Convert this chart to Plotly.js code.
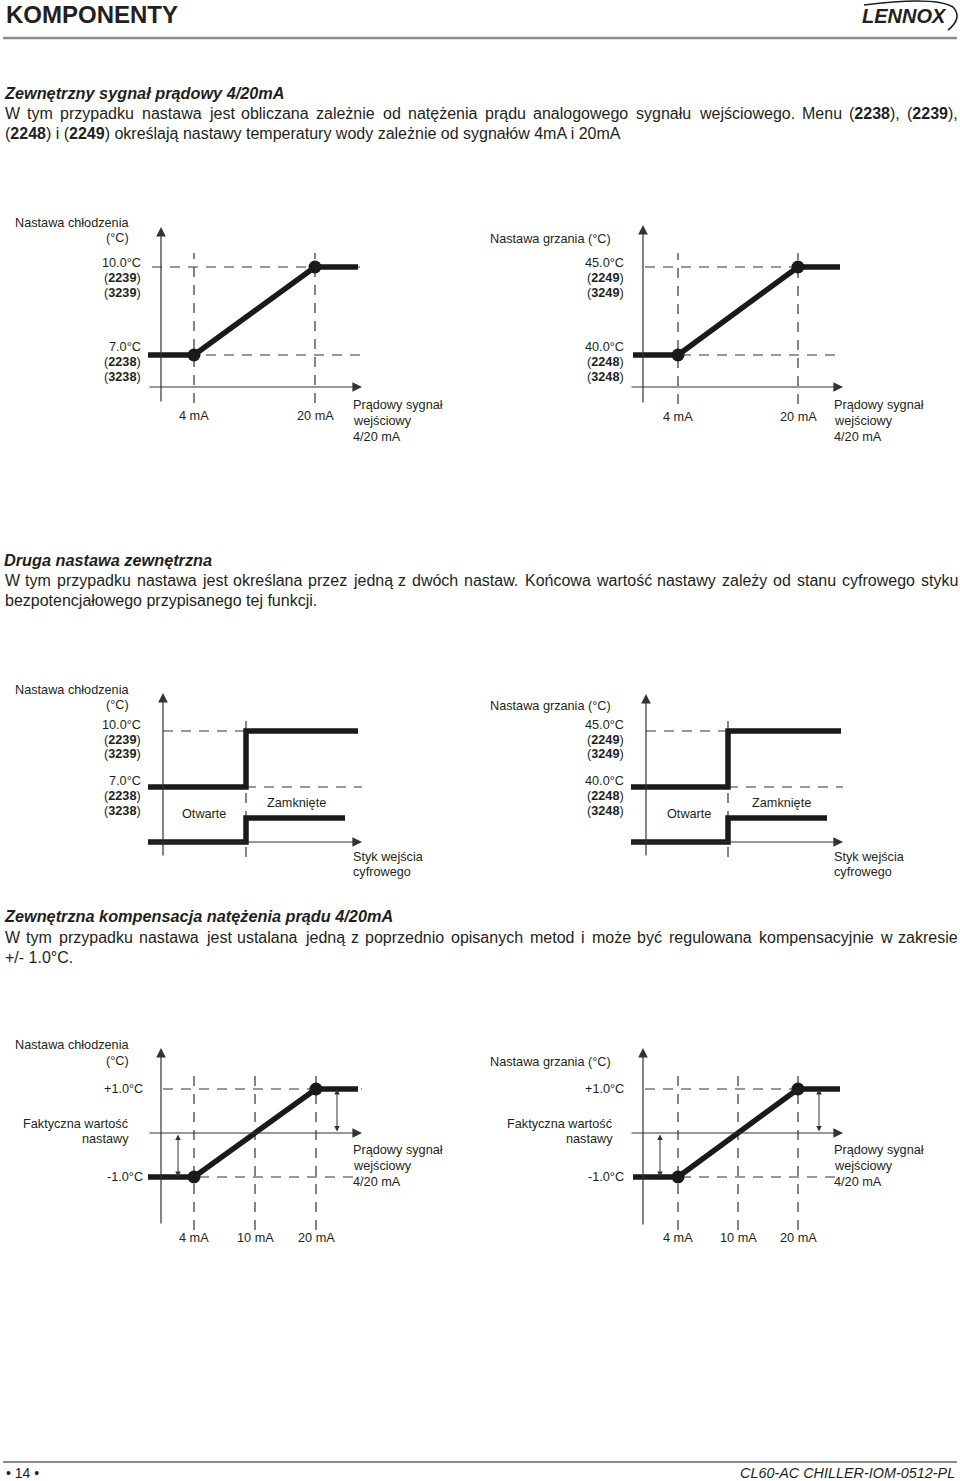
<!DOCTYPE html>
<html><head><meta charset="utf-8">
<script src="https://cdn.plot.ly/plotly-3.0.1.min.js"></script>
<style>html,body{margin:0;padding:0;background:#fff}#chart{width:960px;height:1481px}</style>
</head><body><div id="chart"></div>
<script>
// ---------------- data ----------------
const currentMA = [4, 20];
const currentLabels = ['4 mA', '20 mA'];
const coolSetpoints = [7.0, 10.0];
const heatSetpoints = [40.0, 45.0];
const coolLabels = ['7.0°C', '10.0°C'];
const heatLabels = ['40.0°C', '45.0°C'];
const coolMenus = [['2238', '3238'], ['2239', '3239']];
const heatMenus = [['2248', '3248'], ['2249', '3249']];
const contactStates = ['Otwarte', 'Zamknięte'];
const contactLevels = [0, 1];
const compCurrentLabels = ['4 mA', '10 mA', '20 mA'];
const compIndex = [0, 1, 2];
const compOffsets = [-1.0, 1.0];
const compLabels = ['-1.0°C', '+1.0°C'];
const actualSetpoint = 0;
const currentCaption = ['Prądowy sygnał', 'wejściowy', '4/20 mA'];
const contactCaption = ['Styk wejścia', 'cyfrowego'];
const coolTitle = ['Nastawa chłodzenia', '(°C)'];
const heatTitle = ['Nastawa grzania (°C)'];
const actualLabel = ['Faktyczna wartość', 'nastawy'];

// ---------------- setup ----------------
const W = 960, H = 1481;
const INK = '#231f20';
const FONT = 'Liberation Sans, Arial, sans-serif';
const DASH = '10px,8px';
const traces = [];
const layout = {
  width: W, height: H, margin: {l: 0, r: 0, t: 0, b: 0},
  paper_bgcolor: '#ffffff', plot_bgcolor: 'rgba(0,0,0,0)', showlegend: false,
  font: {family: FONT, color: INK, size: 12.7},
  annotations: [], shapes: []
};
const ann = layout.annotations, shp = layout.shapes;

function mk(p0, v0, p1, v1, pmin, pmax, isY) {
  const k = (v1 - v0) / (p1 - p0);
  const f = p => v0 + (p - p0) * k;
  return isY ? {domain: [1 - pmax / H, 1 - pmin / H], range: [f(pmax), f(pmin)], f}
             : {domain: [pmin / W, pmax / W], range: [f(pmin), f(pmax)], f};
}
function setAxis(id, m, anchor, extra) {
  const key = (id[0] === 'x' ? 'xaxis' : 'yaxis') + id.slice(1);
  layout[key] = Object.assign({domain: m.domain, range: m.range, autorange: false, visible: false,
    fixedrange: true, showgrid: false, zeroline: false, anchor: anchor}, extra || {});
}
function L(xid, yid, x, y, w, dash, color) {
  traces.push({type: 'scatter', mode: 'lines', x: x, y: y, xaxis: xid, yaxis: yid,
    line: {color: color || INK, width: w, dash: dash || 'solid'}, hoverinfo: 'skip'});
}
function A(xid, yid, x, y, ax, ay, o) {
  ann.push(Object.assign({xref: xid, yref: yid, axref: xid, ayref: yid, x: x, y: y, ax: ax, ay: ay,
    text: '', showarrow: true, arrowhead: 2, arrowsize: 1.6, arrowwidth: 1.2, arrowcolor: '#333',
    standoff: 0}, o || {}));
}
function T(text, px, py, xanchor, size, extra) {
  ann.push(Object.assign({xref: 'paper', yref: 'paper', x: px / W, y: 1 - py / H,
    xanchor: xanchor || 'left', yanchor: 'middle', text: text, showarrow: false,
    font: {size: size || 12.7, color: INK, family: FONT}}, extra || {}));
}
function TX(xid, text, x, py) {
  ann.push({xref: xid, yref: 'paper', x: x, y: 1 - py / H, xanchor: 'center', yanchor: 'middle',
    text: text, showarrow: false, font: {size: 12.7, color: INK, family: FONT}});
}
function menuTxt(n) { return '(<b>' + n + '</b>)'; }

// justified line: measure words with canvas and spread them between x0 and x1
const ctx = document.createElement('canvas').getContext('2d');
function wordWidth(word, size) {
  let w = 0;
  const parts = word.split(/(<b>.*?<\/b>)/).filter(s => s.length);
  parts.forEach(p => {
    const bold = p.startsWith('<b>');
    const s = p.replace(/<\/?b>/g, '');
    ctx.font = (bold ? 'bold ' : '') + size + 'px "Liberation Sans"';
    w += ctx.measureText(s).width;
  });
  return w;
}
function justify(line, x0, x1, py, size) {
  const words = line.split(' ');
  const ws = words.map(w => wordWidth(w, size));
  const total = ws.reduce((a, b) => a + b, 0);
  const gap = (x1 - x0 - total) / (words.length - 1);
  let x = x0;
  words.forEach((w, i) => {
    T(w, x, py, 'left', size, {borderpad: 0});
    x += ws[i] + gap;
  });
}

// ---------------- ramp diagrams (4/20 mA) ----------------
function ramp(g) {
  const xm = mk(g.xAnch[0], currentMA[0], g.xAnch[1], currentMA[1], g.frame[0], g.frame[1], false);
  const ym = mk(g.yAnch[0], g.sp[0], g.yAnch[1], g.sp[1], g.frame[2], g.frame[3], true);
  setAxis(g.xid, xm, g.yid); setAxis(g.yid, ym, g.xid);
  const X = xm.f, Y = ym.f;
  currentMA.forEach(c => L(g.xid, g.yid, [c, c], [Y(g.vBot), Y(g.vTop)], 1.2, DASH, '#333'));
  g.sp.forEach(s => L(g.xid, g.yid, [X(g.hL), X(g.hR)], [s, s], 1.2, DASH, '#333'));
  A(g.xid, g.yid, X(g.yAxisX), Y(g.yTop), X(g.yAxisX), Y(g.yBot));
  A(g.xid, g.yid, X(g.xTip), Y(g.xAxisY), X(g.xL), Y(g.xAxisY));
  L(g.xid, g.yid, [X(g.lineL), currentMA[0], currentMA[1], X(g.lineR)],
    [g.sp[0], g.sp[0], g.sp[1], g.sp[1]], 5.5, 'solid', '#1a1a1a');
  traces.push({type: 'scatter', mode: 'markers', x: currentMA, y: g.sp, xaxis: g.xid, yaxis: g.yid,
    marker: {size: 13, color: '#1a1a1a'}, hoverinfo: 'skip'});
  g.title.forEach((t, i) => T(t, g.titleR, g.titleY[i], 'right'));
  g.sp.forEach((s, i) => {
    const ys = g.labY[i];
    T(g.spLab[i], g.labR, ys[0], 'right');
    T(menuTxt(g.menus[i][0]), g.labR, ys[1], 'right');
    T(menuTxt(g.menus[i][1]), g.labR, ys[2], 'right');
  });
  currentMA.forEach((c, i) => TX(g.xid, currentLabels[i], c, g.tickY));
  currentCaption.forEach((t, i) => T(t, g.capX, g.capY[i], 'left'));
}

// ---------------- step diagrams (digital input) ----------------
function step(g) {
  const xm = mk(g.lineL, 0, g.lineR, 1, g.frame[0], g.frame[1], false);
  const ym = mk(g.yAnch[0], g.sp[0], g.yAnch[1], g.sp[1], g.frame[2], g.frame[3], true);
  const cm = mk(g.cAnch[0], contactLevels[0], g.cAnch[1], contactLevels[1], g.frame[2], g.frame[3], true);
  setAxis(g.xid, xm, g.yid); setAxis(g.yid, ym, g.xid); setAxis(g.cid, cm, g.xid, {overlaying: g.yid});
  const X = xm.f, Y = ym.f;
  const sx = X(g.stepX);
  L(g.xid, g.yid, [sx, sx], [Y(g.vBot), Y(g.vTop)], 1.2, DASH, '#333');
  L(g.xid, g.yid, [X(g.hTopL), sx], [g.sp[1], g.sp[1]], 1.2, DASH, '#333');
  L(g.xid, g.yid, [sx, X(g.hBotR)], [g.sp[0], g.sp[0]], 1.2, DASH, '#333');
  A(g.xid, g.yid, X(g.yAxisX), Y(g.yTop), X(g.yAxisX), Y(g.yBot));
  A(g.xid, g.yid, X(g.xTip), Y(g.xAxisY), X(g.xL), Y(g.xAxisY));
  traces.push({type: 'scatter', mode: 'lines', x: [X(g.lineL), sx, X(g.lineR)],
    y: [g.sp[0], g.sp[1], g.sp[1]], xaxis: g.xid, yaxis: g.yid,
    line: {color: '#1a1a1a', width: 5.5, shape: 'hv'}, hoverinfo: 'skip'});
  traces.push({type: 'scatter', mode: 'lines', x: [X(g.lineL), sx, X(g.lowR)],
    y: [contactLevels[0], contactLevels[1], contactLevels[1]], xaxis: g.xid, yaxis: g.cid,
    line: {color: '#1a1a1a', width: 5.5, shape: 'hv'}, hoverinfo: 'skip'});
  g.title.forEach((t, i) => T(t, g.titleR, g.titleY[i], 'right'));
  g.sp.forEach((s, i) => {
    const ys = g.labY[i];
    T(g.spLab[i], g.labR, ys[0], 'right');
    T(menuTxt(g.menus[i][0]), g.labR, ys[1], 'right');
    T(menuTxt(g.menus[i][1]), g.labR, ys[2], 'right');
  });
  contactStates.forEach((t, i) => T(t, g.stateLab[i][0], g.stateLab[i][1], 'center'));
  contactCaption.forEach((t, i) => T(t, g.capX, g.capY[i], 'left'));
}

// ---------------- compensation diagrams ----------------
function comp(g) {
  const xm = mk(g.xAnch[0], compIndex[0], g.xAnch[1], compIndex[2], g.frame[0], g.frame[1], false);
  const ym = mk(g.yAnch[0], compOffsets[0], g.yAnch[1], compOffsets[1], g.frame[2], g.frame[3], true);
  setAxis(g.xid, xm, g.yid); setAxis(g.yid, ym, g.xid);
  const X = xm.f, Y = ym.f;
  compIndex.forEach(c => L(g.xid, g.yid, [c, c], [Y(g.vBot), Y(g.vTop)], 1.2, DASH, '#333'));
  compOffsets.forEach(s => L(g.xid, g.yid, [X(g.hL), X(g.hR)], [s, s], 1.2, DASH, '#333'));
  A(g.xid, g.yid, X(g.yAxisX), Y(g.yTop), X(g.yAxisX), Y(g.yBot));
  A(g.xid, g.yid, X(g.xTip), actualSetpoint, X(g.xL), actualSetpoint);
  L(g.xid, g.yid, [X(g.lineL), compIndex[0], compIndex[2], X(g.lineR)],
    [compOffsets[0], compOffsets[0], compOffsets[1], compOffsets[1]], 5.5, 'solid', '#1a1a1a');
  traces.push({type: 'scatter', mode: 'markers', x: [compIndex[0], compIndex[2]], y: compOffsets,
    xaxis: g.xid, yaxis: g.yid, marker: {size: 13, color: '#1a1a1a'}, hoverinfo: 'skip'});
  compOffsets.forEach((s, i) => A(g.xid, g.yid, X(g.arrX[i]), s, X(g.arrX[i]), actualSetpoint,
    {arrowside: 'end+start', arrowhead: 2, startarrowhead: 2, arrowsize: 1.1, startarrowsize: 1.1, arrowwidth: 1}));
  g.title.forEach((t, i) => T(t, g.titleR, g.titleY[i], 'right'));
  compOffsets.forEach((s, i) => T(compLabels[i], g.labR, g.labY[i], 'right'));
  actualLabel.forEach((t, i) => T(t, g.faktR, g.faktY[i], 'right'));
  compIndex.forEach((c, i) => TX(g.xid, compCurrentLabels[i], c, g.tickY));
  currentCaption.forEach((t, i) => T(t, g.capX, g.capY[i], 'left'));
}

ramp({xid: 'x', yid: 'y', frame: [140, 372, 215, 412], xAnch: [194, 315], yAnch: [355, 267],
  yAxisX: 161, yTop: 227, yBot: 403, xAxisY: 387, xL: 148, xTip: 362, lineL: 148, lineR: 358,
  vTop: 253, vBot: 403, hL: 152, hR: 362, sp: coolSetpoints, spLab: coolLabels, menus: coolMenus,
  title: coolTitle, titleR: 131, titleY: [223, 238], labR: 143,
  labY: [[347, 362, 377], [263, 278, 293]], tickY: 416, capX: 351, capY: [405, 421, 437]});
ramp({xid: 'x2', yid: 'y2', frame: [622, 852, 215, 412], xAnch: [678, 798], yAnch: [355, 267],
  yAxisX: 643, yTop: 225, yBot: 404, xAxisY: 387, xL: 630, xTip: 843, lineL: 633, lineR: 840,
  vTop: 253, vBot: 404, hL: 645, hR: 843, sp: heatSetpoints, spLab: heatLabels, menus: heatMenus,
  title: heatTitle, titleR: 613, titleY: [239], labR: 626,
  labY: [[347, 362, 377], [263, 278, 293]], tickY: 417, capX: 832, capY: [405, 421, 437]});

step({xid: 'x3', yid: 'y3', cid: 'y7', frame: [140, 372, 685, 865], yAnch: [787, 731], cAnch: [842, 818],
  yAxisX: 163, yTop: 693, yBot: 857, xAxisY: 842, xL: 148, xTip: 362, stepX: 246,
  lineL: 148, lineR: 358, lowR: 345, vTop: 719, vBot: 857, hTopL: 163, hBotR: 362,
  sp: coolSetpoints, spLab: coolLabels, menus: coolMenus, title: coolTitle, titleR: 131, titleY: [690, 705],
  labR: 143, labY: [[781, 796, 811], [725, 740, 754]], stateLab: [[204, 814], [296, 803]],
  capX: 351, capY: [857, 872]});
step({xid: 'x4', yid: 'y4', cid: 'y8', frame: [622, 852, 685, 865], yAnch: [787, 731], cAnch: [842, 818],
  yAxisX: 646, yTop: 694, yBot: 857, xAxisY: 842, xL: 630, xTip: 843, stepX: 728,
  lineL: 631, lineR: 841, lowR: 827, vTop: 719, vBot: 857, hTopL: 646, hBotR: 843,
  sp: heatSetpoints, spLab: heatLabels, menus: heatMenus, title: heatTitle, titleR: 613, titleY: [706],
  labR: 626, labY: [[781, 796, 811], [725, 740, 754]], stateLab: [[689, 814], [781, 803]],
  capX: 832, capY: [857, 872]});

comp({xid: 'x5', yid: 'y5', frame: [140, 372, 1040, 1245], xAnch: [194, 316], yAnch: [1177, 1089],
  yAxisX: 161, yTop: 1048, yBot: 1225, xL: 148, xTip: 362, lineL: 148, lineR: 358,
  vTop: 1075, vBot: 1230, hL: 163, hR: 362, arrX: [178, 337], title: coolTitle, titleR: 131,
  titleY: [1045, 1061], labR: 145, labY: [1177, 1089], faktR: 131, faktY: [1124, 1139],
  tickY: 1238, capX: 351, capY: [1150, 1166, 1182]});
comp({xid: 'x6', yid: 'y6', frame: [622, 852, 1040, 1245], xAnch: [678, 798], yAnch: [1177, 1089],
  yAxisX: 643, yTop: 1048, yBot: 1226, xL: 630, xTip: 843, lineL: 633, lineR: 840,
  vTop: 1075, vBot: 1230, hL: 645, hR: 843, arrX: [660, 819], title: heatTitle, titleR: 613,
  titleY: [1062], labR: 626, labY: [1177, 1089], faktR: 615, faktY: [1124, 1139],
  tickY: 1238, capX: 832, capY: [1150, 1166, 1182]});

// ---------------- page text ----------------
const BODY = 16;
const HEAD = 16.3;
T('<b>KOMPONENTY</b>', 4, 15, 'left', 24);
T('<b><i>LENNOX</i></b>', 904, 16, 'center', 20);
function pp(x, y) { return (x / W).toFixed(5) + ',' + (1 - y / H).toFixed(5); }
shp.push({type: 'path', xref: 'paper', yref: 'paper', line: {color: INK, width: 1.6},
  path: 'M' + pp(864, 5) + ' Q' + pp(935, -4) + ' ' + pp(953, 7) + ' Q' + pp(963, 18) + ' ' + pp(948, 30)});
shp.push({type: 'line', xref: 'paper', yref: 'paper', x0: 3 / W, x1: 957 / W, y0: 1 - 38 / H, y1: 1 - 38 / H,
  line: {color: '#8c8c8c', width: 2.5}});

T('<b><i>Zewnętrzny sygnał prądowy 4/20mA</i></b>', 3, 93, 'left', HEAD, {borderpad: 0});
justify('W tym przypadku nastawa jest obliczana zależnie od natężenia prądu analogowego sygnału wejściowego. Menu (<b>2238</b>), (<b>2239</b>),', 3.5, 957, 113, BODY);
T('(<b>2248</b>) i (<b>2249</b>) określają nastawy temperatury wody zależnie od sygnałów 4mA i 20mA', 3.5, 133, 'left', BODY, {borderpad: 0});
T('<b><i>Druga nastawa zewnętrzna</i></b>', 3, 560, 'left', HEAD, {borderpad: 0});
justify('W tym przypadku nastawa jest określana przez jedną z dwóch nastaw. Końcowa wartość nastawy zależy od stanu cyfrowego styku', 3.5, 957, 580, BODY);
T('bezpotencjałowego przypisanego tej funkcji.', 3.5, 600, 'left', BODY, {borderpad: 0});
T('<b><i>Zewnętrzna kompensacja natężenia prądu 4/20mA</i></b>', 3, 916, 'left', HEAD, {borderpad: 0});
justify('W tym przypadku nastawa jest ustalana jedną z poprzednio opisanych metod i może być regulowana kompensacyjnie w zakresie', 3.5, 957, 937, BODY);
T('+/- 1.0°C.', 3.5, 957, 'left', BODY, {borderpad: 0});

shp.push({type: 'line', xref: 'paper', yref: 'paper', x0: 3 / W, x1: 957 / W, y0: 1 - 1462 / H, y1: 1 - 1462 / H,
  line: {color: '#8c8c8c', width: 2}});
T('• 14 •', 4, 1473, 'left', 14);
T('<i>CL60-AC CHILLER-IOM-0512-PL</i>', 957, 1473, 'right', 14.4);

Plotly.newPlot('chart', traces, layout, {staticPlot: true, displayModeBar: false});
</script>
</body></html>
